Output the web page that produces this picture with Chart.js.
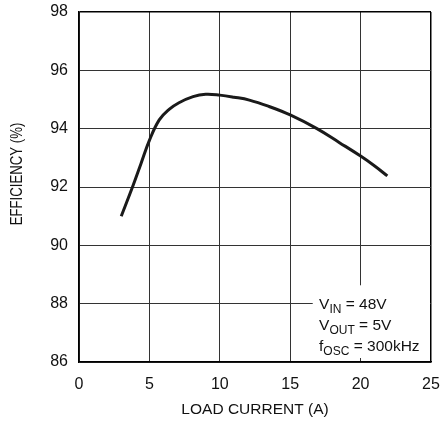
<!DOCTYPE html>
<html>
<head>
<meta charset="UTF-8">
<title>Efficiency vs Load Current</title>
<script src="https://cdn.jsdelivr.net/npm/chart.js"></script>
<style>
  html, body { margin: 0; padding: 0; background: #fff; }
  #wrap { width: 442px; height: 424px; }
</style>
</head>
<body>
<div id="wrap"><canvas id="effChart" width="442" height="424"></canvas></div>
<script>
// datos
const loadCurrent = [3.0, 3.8, 4.4, 5.0, 5.7, 6.4, 7.1, 8.1, 9.0, 10.0, 11.0, 12.1, 13.5, 15.0, 16.9, 18.5, 20.0, 21.0, 21.9];
const efficiency  = [91.0, 92.0, 92.8, 93.6, 94.3, 94.66, 94.89, 95.10, 95.18, 95.15, 95.08, 94.98, 94.76, 94.47, 94.0, 93.52, 93.06, 92.72, 92.38];
const xTicks = [0, 5, 10, 15, 20, 25];
const yTicks = [86, 88, 90, 92, 94, 96, 98];
const yTitle = 'EFFICIENCY (%)';
const noteLines = [
  ['V', 'IN', ' = 48V'],
  ['V', 'OUT', ' = 5V'],
  ['f', 'OSC', ' = 300kHz']
];

const FONT = "'Liberation Sans', Arial, sans-serif";

// caja de condiciones (tapa la grilla) + titulo del eje Y condensado
const notePlugin = {
  id: 'notePlugin',
  afterDatasetsDraw(chart) {
    const ctx = chart.ctx;
    const xs = chart.scales.x, ys = chart.scales.y;
    const left = xs.getPixelForValue(16.6);
    const right = xs.getPixelForValue(25) - 1;
    const top = ys.getPixelForValue(88.63);
    const bottom = ys.getPixelForValue(86) - 4;
    ctx.save();
    ctx.fillStyle = '#fff';
    ctx.fillRect(left, top, right - left, bottom - top);
    let y = top + 24;
    const x0 = xs.getPixelForValue(17.05);
    ctx.fillStyle = '#111';
    ctx.textBaseline = 'alphabetic';
    noteLines.forEach(parts => {
      let x = x0;
      ctx.font = '15.5px ' + FONT;
      ctx.fillText(parts[0], x, y);
      x += ctx.measureText(parts[0]).width;
      ctx.font = '12px ' + FONT;
      ctx.fillText(parts[1], x, y + 4);
      x += ctx.measureText(parts[1]).width;
      ctx.font = '15.5px ' + FONT;
      ctx.fillText(parts[2], x, y);
      y += 21;
    });
    ctx.restore();
  },
  afterDraw(chart) {
    const ctx = chart.ctx;
    ctx.save();
    ctx.translate(17, 174);
    ctx.rotate(-Math.PI / 2);
    ctx.scale(0.8, 1);
    ctx.font = '16.5px ' + FONT;
    ctx.fillStyle = '#111';
    ctx.textAlign = 'center';
    ctx.textBaseline = 'middle';
    ctx.fillText(yTitle, 0, 0);
    ctx.restore();
  }
};

const ctx = document.getElementById('effChart').getContext('2d');
new Chart(ctx, {
  type: 'line',
  data: {
    datasets: [{
      data: loadCurrent.map((x, i) => ({ x: x, y: efficiency[i] })),
      borderColor: '#1a1a1a',
      borderWidth: 3,
      pointRadius: 0,
      fill: false,
      tension: 0.4
    }]
  },
  options: {
    responsive: false,
    animation: false,
    layout: { padding: { top: 12, right: 11, left: 0, bottom: 0 } },
    plugins: { legend: { display: false }, tooltip: { enabled: false } },
    scales: {
      x: {
        type: 'linear',
        min: 0, max: 25,
        afterBuildTicks: s => { s.ticks = xTicks.map(v => ({ value: v })); },
        afterFit: s => { s.height = 62; s.paddingLeft = 0; s.paddingRight = 0; },
        grid: {
          drawTicks: false,
          color: c => c.tick && c.tick.value === 25 ? '#000' : '#333',
          lineWidth: c => c.tick && c.tick.value === 25 ? 1.5 : 1
        },
        border: { color: '#000', width: 1.5 },
        ticks: { color: '#111', padding: 13, font: { family: FONT, size: 16 } },
        title: { display: true, text: 'LOAD CURRENT (A)', color: '#111',
                 padding: { top: 4, bottom: 5 }, font: { family: FONT, size: 15.5 } }
      },
      y: {
        min: 86, max: 98,
        afterBuildTicks: s => { s.ticks = yTicks.map(v => ({ value: v })); },
        afterFit: s => { s.width = 79; s.paddingTop = 0; s.paddingBottom = 0; },
        grid: {
          drawTicks: false,
          color: c => c.tick && c.tick.value === 98 ? '#000' : '#333',
          lineWidth: c => c.tick && c.tick.value === 98 ? 1.5 : 1
        },
        border: { color: '#000', width: 1.5 },
        ticks: { color: '#111', padding: 11, font: { family: FONT, size: 16 } },
        title: { display: false }
      }
    }
  },
  plugins: [notePlugin]
});
</script>
</body>
</html>
